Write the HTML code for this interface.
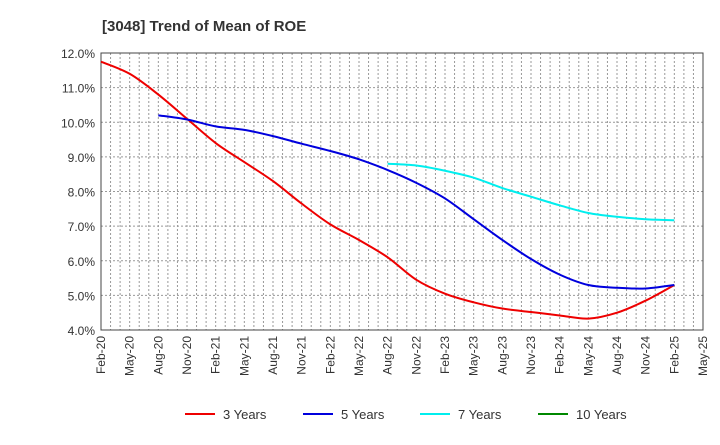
<!DOCTYPE html>
<html><head><meta charset="utf-8"><style>
body{margin:0;background:#fff;font-family:"Liberation Sans",sans-serif}
</style></head><body>
<svg id="c" width="720" height="440" xmlns="http://www.w3.org/2000/svg">
<text x="102" y="31" font-size="15" font-weight="bold" fill="#333">[3048]  Trend of Mean of ROE</text>
</svg>
<script>
const xLabels=["Feb-20","May-20","Aug-20","Nov-20","Feb-21","May-21","Aug-21","Nov-21","Feb-22","May-22","Aug-22","Nov-22","Feb-23","May-23","Aug-23","Nov-23","Feb-24","May-24","Aug-24","Nov-24","Feb-25","May-25"];
const yTicks=[4,5,6,7,8,9,10,11,12];
const s3=[11.75,11.4,10.8,10.1,9.4,8.85,8.3,7.65,7.05,6.6,6.1,5.45,5.05,4.8,4.62,4.52,4.42,4.33,4.5,4.85,5.3];
const s5=[10.2,10.08,9.88,9.78,9.6,9.38,9.17,8.93,8.62,8.25,7.8,7.2,6.6,6.05,5.6,5.3,5.22,5.2,5.3];
const s7=[8.8,8.75,8.6,8.4,8.1,7.85,7.6,7.38,7.27,7.2,7.17];
const s10=[];
const svg=document.getElementById('c');const NS="http://www.w3.org/2000/svg";
const L=101,R=703,T=53,B=330;
const xM=m=>L+(R-L)*m/63;const y=v=>B-(v-4)/8*(B-T);
function mk(t,a,p){const e=document.createElementNS(NS,t);for(const k in a)e.setAttribute(k,a[k]);(p||svg).appendChild(e);return e;}
for(let m=1;m<63;m++){const g=mk('line',{x1:xM(m),x2:xM(m),y1:T,y2:B,stroke:'#999','stroke-dasharray':'2,2','stroke-width':1});

}
yTicks.forEach(v=>{const g=mk('line',{x1:L,x2:R,y1:y(v),y2:y(v),stroke:'#999','stroke-dasharray':'2,2'});


const t=mk('text',{x:L-6,y:y(v)+5,'text-anchor':'end','font-size':12,fill:'#333'});t.textContent=v.toFixed(1)+'%';

});
const fr=mk('rect',{x:L,y:T,width:R-L,height:B-T,fill:'none',stroke:'#444'});


xLabels.forEach((s,i)=>{const x=xM(i*3);const t=mk('text',{transform:`translate(${x+4},${B+6}) rotate(-90)`,'text-anchor':'end','font-size':12,fill:'#333'});t.textContent=s;

});
function path(arr,start,col,name){if(!arr.length)return;const pts=arr.map((v,i)=>[xM((start+i)*3),y(v)]);
let d='M'+pts[0];for(let i=0;i<pts.length-1;i++){const p0=pts[i-1]||pts[i],p1=pts[i],p2=pts[i+1],p3=pts[i+2]||p2;
d+=`C${p1[0]+(p2[0]-p0[0])/6},${p1[1]+(p2[1]-p0[1])/6} ${p2[0]-(p3[0]-p1[0])/6},${p2[1]-(p3[1]-p1[1])/6} ${p2[0]},${p2[1]}`;}
const e=mk('path',{d:d,fill:'none',stroke:col,'stroke-width':2});

}
path(s3,0,'#e00','line-3-years');path(s5,2,'#00d','line-5-years');path(s7,10,'#0ee','line-7-years');path(s10,0,'#080','line-10-years');
const leg=[["3 Years","#e00",185],["5 Years","#00d",303],["7 Years","#0ee",420],["10 Years","#080",538]];
leg.forEach(l=>{const g=mk('g',{});


mk('line',{x1:l[2],x2:l[2]+30,y1:414,y2:414,stroke:l[1],'stroke-width':2},g);
const t=mk('text',{x:l[2]+38,y:419,'font-size':13,fill:'#333'},g);t.textContent=l[0];});
</script>
</body></html>
